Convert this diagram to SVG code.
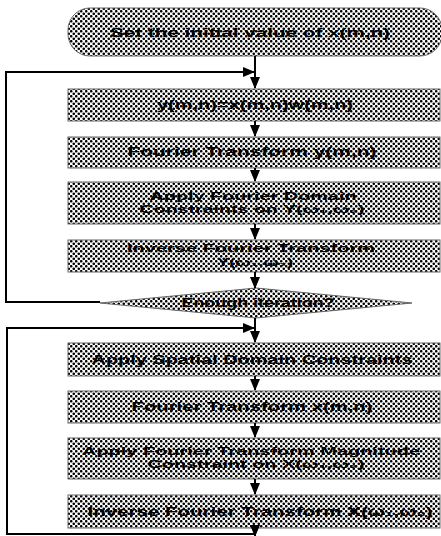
<svg xmlns="http://www.w3.org/2000/svg" width="441" height="536" viewBox="0 0 441 536">
<defs>
<pattern id="dots" patternUnits="userSpaceOnUse" width="5" height="5">
<rect width="5" height="5" fill="#fff"/>
<circle cx="1.25" cy="1.25" r="1.3" fill="#000"/>
<circle cx="3.75" cy="3.75" r="1.3" fill="#000"/>
</pattern>
<marker id="ah" markerWidth="12" markerHeight="10" refX="11" refY="5" orient="auto" markerUnits="userSpaceOnUse">
<path d="M0,0 L12,5 L0,10 Z" fill="#000"/>
</marker>
</defs>
<style>
.box{fill:url(#dots);stroke:#666;stroke-width:1}
.t{font-family:"Liberation Sans",Arial,sans-serif;font-size:12px;font-weight:bold;fill:#000;text-anchor:middle}
.s{font-size:10px}
.c{fill:none;stroke:#000;stroke-width:2}
</style>
<g id="n1"><rect class="box" x="68" y="8" width="374" height="48" rx="22"/><text class="t" x="250" y="37" textLength="280" lengthAdjust="spacingAndGlyphs">Set the initial value of x(m,n)</text></g>
<g id="n2"><rect class="box" x="68" y="89" width="372" height="32"/><text class="t" x="255" y="109" textLength="196" lengthAdjust="spacingAndGlyphs">y(m,n)=x(m,n)w(m,n)</text></g>
<g id="n3"><rect class="box" x="68" y="137" width="372" height="31"/><text class="t" x="252" y="156" textLength="249" lengthAdjust="spacingAndGlyphs">Fourier Transform  y(m,n)</text></g>
<g id="n4"><rect class="box" x="68" y="182" width="372" height="42"/><text class="t s" x="253" y="200" textLength="207" lengthAdjust="spacingAndGlyphs">Apply Fourier Domain</text><text class="t s" x="252" y="213" textLength="225" lengthAdjust="spacingAndGlyphs">Constraints on Y(ω₁,ω₂)</text></g>
<g id="n5"><rect class="box" x="68" y="240" width="372" height="32"/><text class="t s" x="251" y="252" textLength="248" lengthAdjust="spacingAndGlyphs">Inverse Fourier Transform</text><text class="t s" x="255" y="266" textLength="76" lengthAdjust="spacingAndGlyphs">Y(ω₁,ω₂)</text></g>
<g id="n6"><polygon class="box" points="100,303 256,288 412,303 256,318"/><text class="t" x="258" y="307" textLength="153" lengthAdjust="spacingAndGlyphs">Enough iteration?</text></g>
<g id="n7"><rect class="box" x="68" y="343" width="372" height="33"/><text class="t" x="252" y="364" textLength="321" lengthAdjust="spacingAndGlyphs">Apply Spatial Domain Constraints</text></g>
<g id="n8"><rect class="box" x="68" y="391" width="372" height="32"/><text class="t" x="252" y="411" textLength="241" lengthAdjust="spacingAndGlyphs">Fourier Transform x(m,n)</text></g>
<g id="n9"><rect class="box" x="68" y="438" width="372" height="41"/><text class="t s" x="251" y="455" textLength="338" lengthAdjust="spacingAndGlyphs">Apply Fourier Transform Magnitude</text><text class="t s" x="256" y="468" textLength="217" lengthAdjust="spacingAndGlyphs">Constraint on X(ω₁,ω₂)</text></g>
<g id="n10"><rect class="box" x="68" y="495" width="372" height="33"/><text class="t" x="260" y="516" textLength="345" lengthAdjust="spacingAndGlyphs">Inverse Fourier Transform X(ω₁,ω₂)</text></g>
<g id="connectors">
<line class="c" x1="255" y1="56" x2="255" y2="88" marker-end="url(#ah)"/>
<line class="c" x1="255" y1="121" x2="255" y2="136" marker-end="url(#ah)"/>
<line class="c" x1="255" y1="168" x2="255" y2="181" marker-end="url(#ah)"/>
<line class="c" x1="255" y1="224" x2="255" y2="239" marker-end="url(#ah)"/>
<line class="c" x1="255" y1="272" x2="255" y2="288" marker-end="url(#ah)"/>
<polyline class="c" points="100,302 6,302 6,72 254,72" marker-end="url(#ah)"/>
<line class="c" x1="255" y1="318" x2="255" y2="342" marker-end="url(#ah)"/>
<polyline class="c" points="255,534 7,534 7,328 254,328" marker-end="url(#ah)"/>
<line class="c" x1="255" y1="376" x2="255" y2="390" marker-end="url(#ah)"/>
<line class="c" x1="255" y1="423" x2="255" y2="437" marker-end="url(#ah)"/>
<line class="c" x1="255" y1="479" x2="255" y2="494" marker-end="url(#ah)"/>
<line class="c" x1="255" y1="528" x2="255" y2="536" marker-end="url(#ah)"/>
</g>
</svg>
